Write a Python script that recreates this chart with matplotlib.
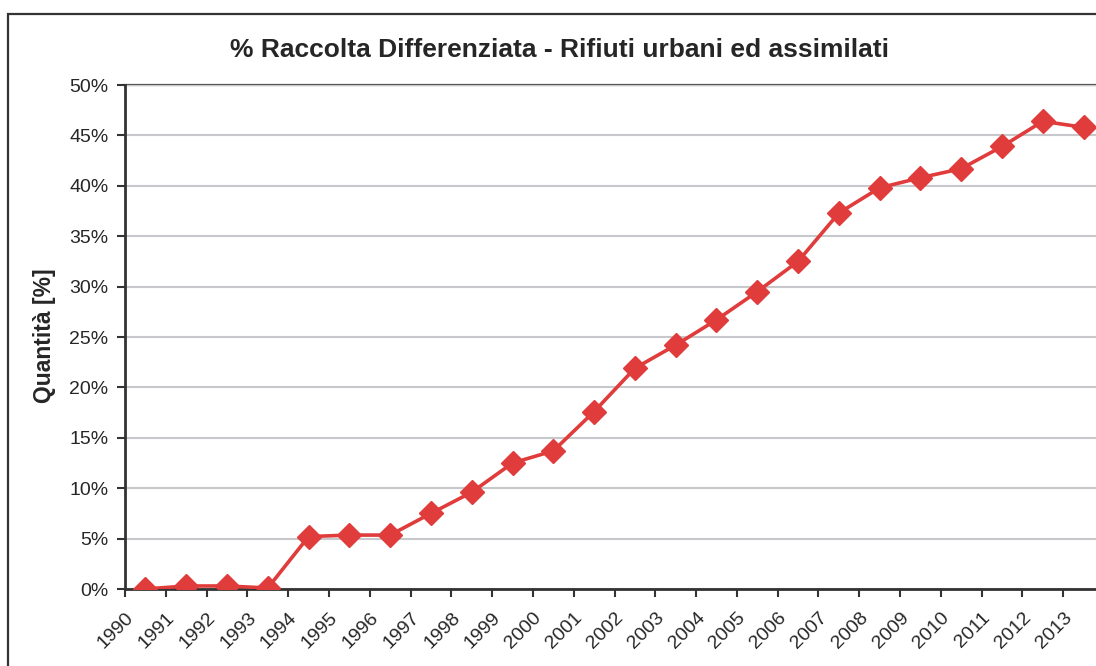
import matplotlib.pyplot as plt
from matplotlib.patches import Rectangle
from matplotlib.ticker import FuncFormatter, MultipleLocator

# Dati: % raccolta differenziata per anno
anni = [str(a) for a in range(1990, 2014)]
percentuali = [0.0, 0.3, 0.3, 0.1, 5.2, 5.35, 5.35, 7.5, 9.6, 12.5, 13.7, 17.6,
               21.9, 24.2, 26.7, 29.5, 32.5, 37.3, 39.8, 40.8, 41.7, 43.9, 46.4, 45.8]

plt.rcParams['font.family'] = ['Liberation Sans', 'DejaVu Sans']
testo = '#262626'
rosso = '#e03c3c'

fig = plt.figure(figsize=(10.96, 6.66), dpi=100)

# Cornice esterna (tagliata a destra e in basso come nell'originale)
fig.add_artist(Rectangle((8 / 1096, -0.1), 1.2, (666 - 14) / 666 + 0.1,
                         transform=fig.transFigure, fill=False,
                         edgecolor='#333333', linewidth=1.6))

ax = fig.add_axes([125 / 1096, 77 / 666, 979 / 1096, 504 / 666])
x = list(range(len(anni)))
ax.plot(x, percentuali, color=rosso, linewidth=2.6, marker='D',
        markersize=12.5, markeredgecolor=rosso, markerfacecolor=rosso, zorder=3)

ax.set_xlim(-0.5, len(anni) - 0.5)
ax.set_ylim(0, 50)
ax.yaxis.set_major_locator(MultipleLocator(5))
ax.yaxis.set_major_formatter(FuncFormatter(lambda v, p: f'{v:.0f}%'))
ax.grid(axis='y', color='#c6c8cc', linewidth=1.5, zorder=0)
ax.axhline(50, color='#555555', linewidth=1.6, zorder=1, clip_on=False)

# Tacche sui confini delle categorie, etichette leggermente spostate a destra
ax.set_xticks([i - 0.5 for i in x], minor=True)
ax.set_xticks([i - 0.5 + 0.15 for i in x])
ax.set_xticklabels(anni, rotation=45, ha='right', va='center',
                   rotation_mode='anchor', fontsize=14, color=testo)
ax.tick_params(axis='x', which='major', length=0, pad=19)
ax.tick_params(axis='x', which='minor', length=6, width=1.5, color='#333333')

ax.tick_params(axis='y', labelsize=14, labelcolor=testo, length=6, width=1.5,
               color='#333333', pad=6)

for lato in ['top', 'right']:
    ax.spines[lato].set_visible(False)
for lato in ['left', 'bottom']:
    ax.spines[lato].set_color('#333333')
    ax.spines[lato].set_linewidth(2)

fig.text(560 / 1096, 1 - 50 / 666,
         '% Raccolta Differenziata - Rifiuti urbani ed assimilati',
         ha='center', va='center', fontsize=19, fontweight='bold', color=testo)
fig.text(45 / 1096, 1 - 336 / 666, 'Quantità [%]', rotation=90,
         ha='center', va='center', fontsize=16.5, fontweight='bold', color=testo)

plt.savefig('out.png', dpi=100)
